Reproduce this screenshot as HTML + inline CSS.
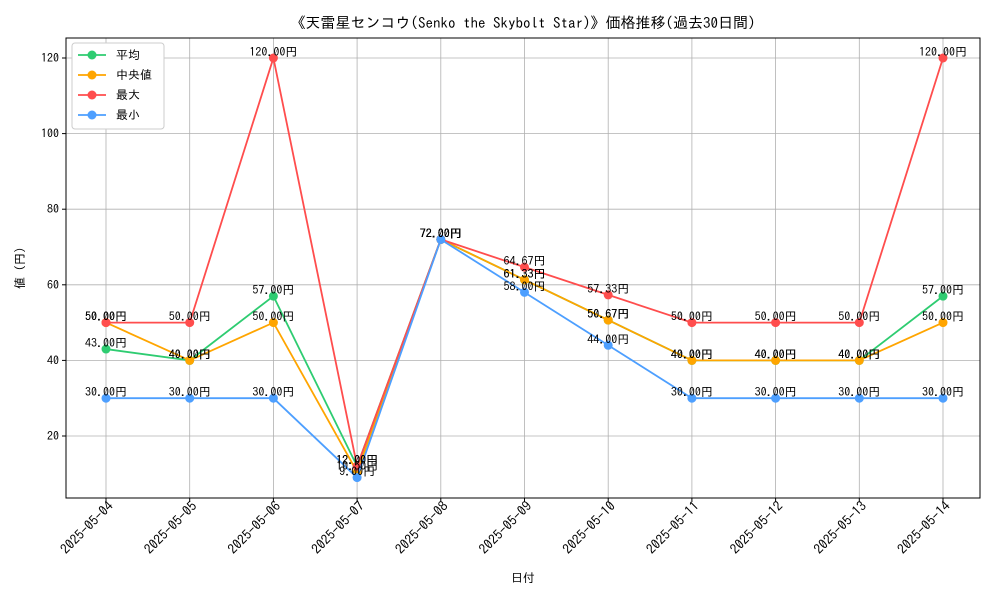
<!DOCTYPE html>
<html><head><meta charset="utf-8"><style>
body{margin:0;background:#fff;}
svg{font-family:"IPAGothic","Noto Sans CJK JP",sans-serif;}
</style></head><body>
<svg id="chart" width="1000" height="600" xmlns="http://www.w3.org/2000/svg"></svg>
<script>
const categories=["2025-05-04","2025-05-05","2025-05-06","2025-05-07","2025-05-08","2025-05-09","2025-05-10","2025-05-11","2025-05-12","2025-05-13","2025-05-14"];
const avgValues=[43,40,57,12,72,61.33,50.67,40,40,40,57];
const medianValues=[50,40,50,10.5,72,61.33,50.67,40,40,40,50];
const maxValues=[50,50,120,12,72,64.67,57.33,50,50,50,120];
const minValues=[30,30,30,9,72,58,44,30,30,30,30];
const yTicks=[20,40,60,80,100,120];
const seriesNames=["平均","中央値","最大","最小"];
const colors=["#2ecc71","#ffa500","#ff4d4d","#4d9fff"];

const NS="http://www.w3.org/2000/svg";
const svg=document.getElementById('chart');
const L=66,R=980,T=38,B=498;
const x=i=>106+i*(943-106)/(categories.length-1);
const y=v=>436-(v-20)*3.78;
function el(tag,attrs,parent){const e=document.createElementNS(NS,tag);for(const k in attrs)e.setAttribute(k,attrs[k]);(parent||svg).appendChild(e);return e;}
function txt(s,attrs,parent){const e=el('text',attrs,parent);e.textContent=s;return e;}

const grid=el('g',{});


categories.forEach((c,i)=>{
  el('line',{x1:x(i),x2:x(i),y1:T,y2:B,stroke:'#b0b0b0','stroke-width':0.8},grid);
  el('line',{x1:x(i),x2:x(i),y1:B,y2:B+4,stroke:'#000'},grid);
  const ax=x(i)+8, ay=B+9;
  const t=txt(c,{x:ax,y:ay,'font-size':13.5,'text-anchor':'end',transform:`rotate(-45 ${ax} ${ay})`});
  
  
});
yTicks.forEach(v=>{
  el('line',{x1:L,x2:R,y1:y(v),y2:y(v),stroke:'#b0b0b0','stroke-width':0.8},grid);
  el('line',{x1:L-4,x2:L,y1:y(v),y2:y(v),stroke:'#000'},grid);
  const t=txt(v,{x:L-7,y:y(v)+4,'font-size':12,'text-anchor':'end'});
  
  
});
const frame=el('rect',{x:L,y:T,width:R-L,height:B-T,fill:'none',stroke:'#000','stroke-width':1});



const allSeries=[avgValues,medianValues,maxValues,minValues];
allSeries.forEach((vals,s)=>{
  const g=el('g',{});
  
  
  el('polyline',{points:vals.map((v,i)=>x(i)+','+y(v)).join(' '),fill:'none',stroke:colors[s],'stroke-width':1.8},g);
  vals.forEach((v,i)=>{
    const c=el('circle',{cx:x(i),cy:y(v),r:4.5,fill:colors[s]},g);
    
    
  });
});
allSeries.forEach((vals)=>{
  vals.forEach((v,i)=>{
    const t=txt(v.toFixed(2)+'円',{x:x(i),y:y(v)-2,'font-size':12,'text-anchor':'middle'});
    
    
  });
});

const title=txt('《天雷星センコウ(Senko the Skybolt Star)》価格推移(過去30日間)',{x:(L+R)/2,y:28,'font-size':15,'text-anchor':'middle'});


const xt=txt('日付',{x:(L+R)/2,y:582,'font-size':12,'text-anchor':'middle'});


const yt=txt('値 (円)',{x:24,y:(T+B)/2,'font-size':12,'text-anchor':'middle',transform:`rotate(-90 24 ${(T+B)/2})`});



const lg=el('g',{});


el('rect',{x:72,y:43,width:92,height:86,fill:'#fff',stroke:'#ccc',rx:3},lg);
seriesNames.forEach((n,s)=>{
  const e=el('g',{},lg);
  
  
  const yy=55+s*20;
  el('line',{x1:78,x2:106,y1:yy,y2:yy,stroke:colors[s],'stroke-width':1.8},e);
  el('circle',{cx:92,cy:yy,r:4.5,fill:colors[s]},e);
  txt(n,{x:116,y:yy+4,'font-size':12},e);
});
</script>
</body></html>
